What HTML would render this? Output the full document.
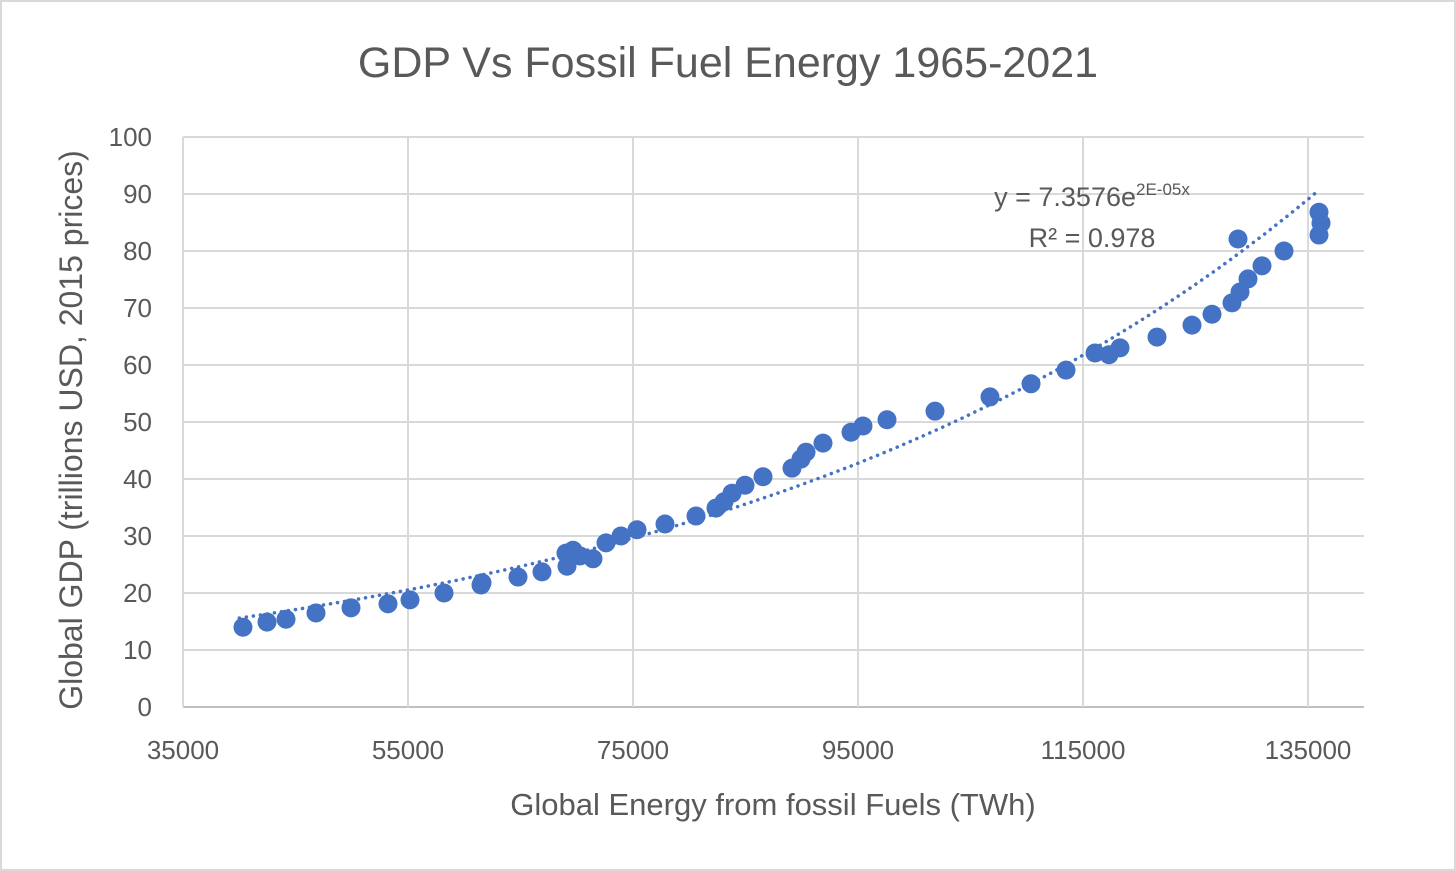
<!DOCTYPE html>
<html><head><meta charset="utf-8"><style>
body{margin:0;background:#fff}
svg{display:block;font-family:"Liberation Sans",Calibri,sans-serif}
</style></head><body>
<svg width="1456" height="871">
<rect x="1" y="1" width="1454" height="869" fill="#fff" stroke="#d9d9d9" stroke-width="2"/>
<text x="728" y="77" text-anchor="middle" font-size="43" fill="#595959">GDP Vs Fossil Fuel Energy 1965-2021</text>
<g id="grid"></g><g id="ticks"></g><g id="trend"></g><g id="pts"></g>
<text x="1092" y="206" text-anchor="middle" font-size="27" fill="#595959">y = 7.3576e<tspan font-size="17" dy="-11">2E-05x</tspan></text>
<text x="1092" y="247" text-anchor="middle" font-size="27" fill="#595959">R² = 0.978</text>
<text x="773" y="815" text-anchor="middle" font-size="31" fill="#595959">Global Energy from fossil Fuels (TWh)</text>
<text transform="translate(82,430) rotate(-90)" text-anchor="middle" font-size="32" fill="#595959">Global GDP  (trillions USD, 2015 prices)</text>
</svg>
<script>
const xs=[40333,42467,44156,46822,49933,53222,55178,58200,61489,61578,64778,66911,69133,69044,69667,70289,71444,72600,73933,75356,77844,80600,82378,83089,83800,84956,86556,89133,89933,90378,91889,94378,95444,97578,101844,106733,110378,113489,116067,117311,118289,121578,124689,126467,128244,128956,129667,130911,132867,128778,135978,136156,135978];
const ys=[14.0,14.9,15.4,16.5,17.4,18.1,18.8,20.0,21.4,21.8,22.8,23.7,24.7,27.0,27.5,26.5,26.0,28.8,30.0,31.1,32.1,33.5,34.9,36.0,37.5,38.9,40.4,41.9,43.5,44.7,46.3,48.2,49.3,50.4,51.9,54.4,56.7,59.1,62.1,61.8,63.0,64.9,67.0,68.9,70.9,72.8,75.1,77.4,80.0,82.1,82.8,84.9,86.8];
const xTicks=[35000,55000,75000,95000,115000,135000];
const yTicks=[0,10,20,30,40,50,60,70,80,90,100];
const trendA=7.49, trendB=1.834e-5, trendRange=[40000,136000];
const X=v=>183+(v-35000)/20000*225, Y=v=>707-v*5.7;
const NS="http://www.w3.org/2000/svg";
function mk(p,t,a){const e=document.createElementNS(NS,t);for(const k in a)e.setAttribute(k,a[k]);document.getElementById(p).appendChild(e);return e;}
yTicks.forEach(t=>{
 const l=mk('grid','line',{x1:183,x2:1364,y1:Y(t),y2:Y(t),stroke:t==0?'#bfbfbf':'#d9d9d9','stroke-width':2});
 
 
 const tx=mk('ticks','text',{x:152,y:Y(t)+9,'text-anchor':'end','font-size':26,fill:'#595959'});tx.textContent=t;
 
 
});
xTicks.forEach(t=>{
 const l=mk('grid','line',{x1:X(t),x2:X(t),y1:Y(0),y2:Y(100),stroke:'#d9d9d9','stroke-width':2});
 
 
 const tx=mk('ticks','text',{x:X(t),y:759,'text-anchor':'middle','font-size':26,fill:'#595959'});tx.textContent=t;
 
 
});
let d='';for(let i=0;i<=100;i++){const v=trendRange[0]+(trendRange[1]-trendRange[0])*i/100;d+=(i?'L':'M')+X(v).toFixed(1)+','+Y(trendA*Math.exp(trendB*v)).toFixed(1);}
const tr=mk('trend','path',{d:d,fill:'none',stroke:'#4472C4','stroke-width':3.5,'stroke-dasharray':'0.1 7','stroke-linecap':'round'});


xs.forEach((x,i)=>{const c=mk('pts','circle',{cx:X(x),cy:Y(ys[i]),r:9.5,fill:'#4472C4'});
 
 });
</script>
</body></html>
